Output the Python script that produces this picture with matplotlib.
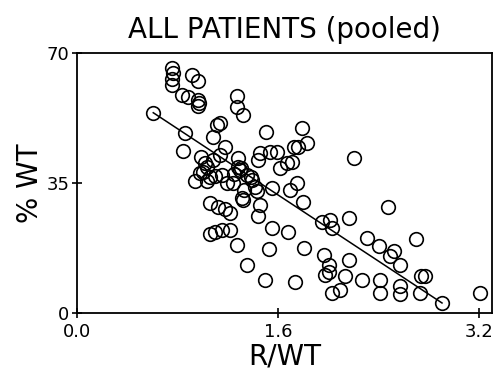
import matplotlib
matplotlib.use("Agg")
import matplotlib.pyplot as plt
import numpy as np

rwt = [0.605, 0.757, 0.765, 0.757, 0.751, 0.831, 0.911, 0.964, 0.884, 0.959,
       0.969, 0.959, 0.858, 0.844, 0.985, 1.017, 1.004, 0.937, 1.030, 1.057,
       1.078, 1.110, 1.136, 1.176, 1.136, 1.083, 1.150, 1.057, 1.123, 1.176,
       1.216, 1.057, 1.097, 1.150, 1.216, 1.269, 1.269, 1.269, 1.322, 1.243,
       1.283, 1.283, 1.296, 1.349, 1.389, 1.309, 1.322, 1.349, 1.429, 1.455,
       1.442, 1.415, 1.442, 1.455, 1.503, 1.548, 1.529, 1.495, 1.548, 1.588,
       1.614, 1.668, 1.707, 1.694, 1.747, 1.721, 1.760, 1.787, 1.827, 1.800,
       1.676, 1.806, 1.729, 1.946, 2.013, 2.026, 1.960, 2.000, 1.973, 2.000,
       2.026, 2.092, 2.127, 2.159, 2.164, 2.199, 2.265, 2.305, 2.398, 2.411,
       2.411, 2.472, 2.517, 2.491, 2.565, 2.570, 2.570, 2.698, 2.724, 2.735,
       2.770, 2.902, 3.208, 1.190, 1.097, 0.980, 1.036, 1.535, 1.300, 1.330,
       1.250, 1.380]
pct_wt = [53.9, 66.0, 64.6, 63.1, 61.3, 58.6, 64.0, 62.4, 58.2, 57.3,
          56.4, 55.7, 48.5, 43.7, 42.1, 40.3, 38.0, 35.4, 35.4, 36.7,
          47.4, 50.6, 51.2, 44.8, 42.5, 41.2, 37.2, 29.7, 28.6, 27.9,
          27.0, 21.2, 21.9, 22.4, 22.4, 18.4, 58.4, 55.5, 53.3, 34.9,
          41.6, 39.4, 38.5, 37.2, 35.8, 30.9, 30.4, 13.0, 32.7, 29.1,
          26.0, 34.0, 41.2, 43.0, 48.8, 22.8, 17.2, 9.0, 33.6, 43.4,
          38.9, 40.3, 40.7, 33.1, 34.9, 44.8, 44.8, 49.7, 45.7, 30.0,
          21.7, 17.5, 8.2, 24.6, 25.1, 22.8, 15.7, 13.0, 10.3, 10.9,
          5.4, 6.3, 10.0, 14.3, 25.5, 41.8, 9.0, 20.3, 18.1, 9.0,
          5.4, 28.6, 16.8, 15.2, 13.0, 7.3, 5.2, 19.9, 5.4, 10.0,
          10.0, 2.7, 5.4, 34.9, 36.9, 37.6, 39.4, 43.4, 39.0, 33.0,
          37.5, 36.5]

fit_intercept = 67.4
fit_slope = -22.3
fit_x_range = [0.605, 2.902]

xticks = [0.0, 1.6, 3.2]
xticklabels = ["0.0", "1.6", "3.2"]
yticks = [0, 35, 70]
yticklabels = ["0", "35", "70"]

plt.rcParams["font.family"] = ["DejaVu Sans"]

fig = plt.figure(figsize=(4.95, 3.73), dpi=100)
ax = fig.add_axes([0.156, 0.161, 0.838, 0.697])
ax.plot(rwt, pct_wt, linestyle="none", marker="o", markersize=9.8,
        markerfacecolor="none", markeredgecolor="black", markeredgewidth=1.2)
lx = np.array(fit_x_range)
ax.plot(lx, fit_intercept + fit_slope * lx, color="black", linewidth=1.1)

ax.set_xlim(0, 3.3)
ax.set_ylim(0, 70)
ax.set_xticks(xticks)
ax.set_xticklabels(xticklabels)
ax.set_yticks(yticks)
ax.set_yticklabels(yticklabels)
for s in ax.spines.values():
    s.set_linewidth(1.3)
ax.tick_params(direction="inout", length=7, width=1.2, labelsize=13)
ax.tick_params(axis="x", pad=4)
ax.tick_params(axis="y", pad=2)

ax.set_xlabel("R/WT", fontsize=20, labelpad=1)
ax.set_ylabel("% WT", fontsize=20, labelpad=2)
ax.set_title("ALL PATIENTS (pooled)", fontsize=20, pad=11)

fig.savefig("out.png", dpi=100)
